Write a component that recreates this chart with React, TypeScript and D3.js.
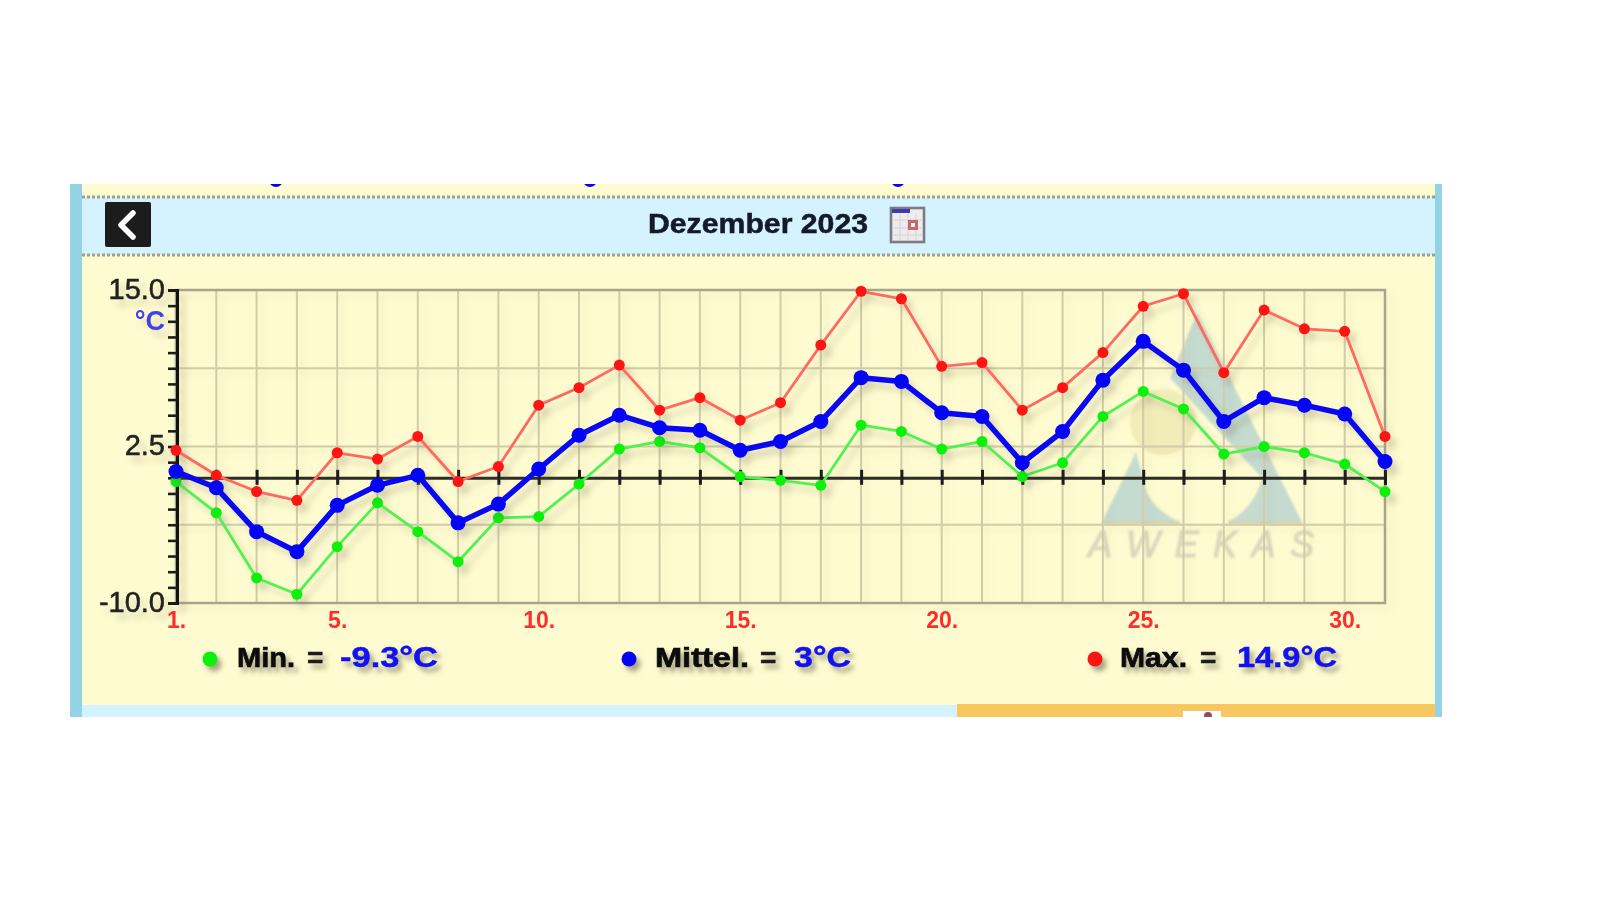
import { useEffect, useRef } from "react";
import * as d3 from "d3";

const DAYS = d3.range(1, 32);
const DAY_LABELS = [1, 5, 10, 15, 20, 25, 30];
const Y_TICKS = d3.range(-10, 15.01, 1.25);
const Y_GRID = [-3.75, 2.5, 8.75];
const Y_LABELS = [15, 2.5, -10];

const maxTemps = [2.2, 0.2, -1.1, -1.8, 2.0, 1.5, 3.3, -0.3, 0.9, 5.8, 7.2, 9.0, 5.4, 6.4, 4.6, 6.0, 10.6, 14.9, 14.3, 8.9, 9.2, 5.4, 7.2, 10.0, 13.7, 14.7, 8.4, 13.4, 11.9, 11.7, 3.3];
const meanTemps = [0.5, -0.8, -4.3, -5.9, -2.2, -0.6, 0.2, -3.6, -2.1, 0.7, 3.4, 5.0, 4.0, 3.8, 2.2, 2.9, 4.5, 8.0, 7.7, 5.2, 4.9, 1.2, 3.7, 7.8, 10.9, 8.6, 4.5, 6.4, 5.8, 5.1, 1.3];
const minTemps = [-0.3, -2.8, -8.0, -9.3, -5.5, -2.0, -4.3, -6.7, -3.2, -3.1, -0.5, 2.3, 2.9, 2.4, 0.1, -0.2, -0.6, 4.2, 3.7, 2.3, 2.9, 0.1, 1.2, 4.9, 6.9, 5.5, 1.9, 2.5, 2.0, 1.1, -1.1];

const legendNames = ["Min.", "Mittel.", "Max."];
const legendValues = ["-9.3°C", "3°C", "14.9°C"];

const SERIES = [
  { key: "max", values: maxTemps, line: "#ff6a60", dot: "#ff1414", width: 2.8, r: 5.5 },
  { key: "min", values: minTemps, line: "#4ff24f", dot: "#0cf00c", width: 2.8, r: 5.5 },
  { key: "mean", values: meanTemps, line: "#0808f2", dot: "#0404f6", width: 5.5, r: 7.5 },
];

const LEGEND_LAYOUT = [
  { color: "#0cf00c", dotX: 210, nameX: 237, nameW: 58, eqX: 307, valueX: 340, valueW: 98 },
  { color: "#0404f6", dotX: 629, nameX: 655, nameW: 94, eqX: 760, valueX: 794, valueW: 57 },
  { color: "#ff1414", dotX: 1095, nameX: 1120, nameW: 67, eqX: 1200, valueX: 1237, valueW: 100 },
];

const FONT = "'Liberation Sans', Arial, sans-serif";

export default function App() {
  const plotRef = useRef<SVGGElement | null>(null);

  useEffect(() => {
    const node = plotRef.current;
    if (!node) return;

    const x = d3.scaleLinear().domain([1, 31]).range([176, 1385]);
    const y = d3.scaleLinear().domain([-10, 15]).range([603, 290]);

    const plot = d3.select(node);
    plot.selectAll("*").remove();

    const grid = plot.append("g").attr("filter", "url(#gridShadow)");

    grid
      .selectAll("line.day")
      .data(DAYS.slice(1))
      .join("line")
      .attr("class", "day")
      .attr("x1", (d) => x(d))
      .attr("x2", (d) => x(d))
      .attr("y1", y(15))
      .attr("y2", y(-10))
      .attr("stroke", "#d0cca8")
      .attr("stroke-width", 2);

    grid
      .selectAll("line.level")
      .data(Y_GRID)
      .join("line")
      .attr("class", "level")
      .attr("x1", x(1))
      .attr("x2", x(31))
      .attr("y1", (d) => y(d))
      .attr("y2", (d) => y(d))
      .attr("stroke", "#d0cca8")
      .attr("stroke-width", 2);

    grid
      .append("rect")
      .attr("x", x(1))
      .attr("y", y(15))
      .attr("width", x(31) - x(1))
      .attr("height", y(-10) - y(15))
      .attr("fill", "none")
      .attr("stroke", "#a8a68a")
      .attr("stroke-width", 2.5);

    // left axis, only three of the ticks carry a label
    const leftAxis = plot
      .append("g")
      .attr("filter", "url(#softShadow)")
      .append("g")
      .attr("transform", `translate(${x(1) + 1}, 0)`)
      .call(
        d3
          .axisLeft(y)
          .tickValues(Y_TICKS)
          .tickSize(9)
          .tickPadding(3)
          .tickFormat((value) => (Y_LABELS.includes(+value) ? (+value).toFixed(1) : ""))
      );
    leftAxis.select(".domain").attr("stroke", "#111").attr("stroke-width", 3);
    leftAxis.selectAll("line").attr("stroke", "#1c1c1c").attr("stroke-width", 2.6);
    leftAxis
      .selectAll("text")
      .attr("font-family", FONT)
      .attr("font-size", 29)
      .attr("fill", "#222")
      .attr("stroke", "#222")
      .attr("stroke-width", 0.5)
      .attr("dy", "0.28em");

    // zero line with a tick for every day
    const zeroAxis = plot
      .append("g")
      .attr("transform", `translate(0, ${y(0)})`)
      .call(d3.axisBottom(x).tickValues(DAYS).tickSize(7).tickFormat(() => ""));
    zeroAxis.select(".domain").attr("stroke", "#2e2e26").attr("stroke-width", 3);
    zeroAxis
      .selectAll(".tick line")
      .attr("y1", -8)
      .attr("y2", 7)
      .attr("stroke", "#1c1c1c")
      .attr("stroke-width", 3);

    const dayAxis = plot
      .append("g")
      .attr("transform", `translate(0, ${y(-10)})`)
      .call(d3.axisBottom(x).tickValues(DAY_LABELS).tickSize(0).tickPadding(9).tickFormat((d) => `${d}.`));
    dayAxis.select(".domain").remove();
    dayAxis
      .selectAll("text")
      .attr("font-family", FONT)
      .attr("font-size", 23)
      .attr("font-weight", 700)
      .attr("fill", "#ff2c2c");

    const line = d3
      .line<number>()
      .x((_, i) => x(DAYS[i]))
      .y((d) => y(d));

    SERIES.forEach((series) => {
      const group = plot.append("g").attr("filter", "url(#softShadow)");
      group
        .append("path")
        .attr("d", line(series.values))
        .attr("fill", "none")
        .attr("stroke", series.line)
        .attr("stroke-width", series.width)
        .attr("stroke-linejoin", "round");
      group
        .selectAll("circle")
        .data(series.values)
        .join("circle")
        .attr("cx", (_, i) => x(DAYS[i]))
        .attr("cy", (d) => y(d))
        .attr("r", series.r)
        .attr("fill", series.dot);
    });
  }, []);

  return (
    <svg width={1600} height={900} style={{ position: "fixed", left: 0, top: 0, background: "#fff" }} fontFamily={FONT}>
      <defs>
        <filter id="softBlur" filterUnits="userSpaceOnUse" x={0} y={0} width={1600} height={900} colorInterpolationFilters="sRGB">
          <feGaussianBlur stdDeviation={0.7} />
        </filter>
        <filter id="softShadow" filterUnits="userSpaceOnUse" x={0} y={0} width={1600} height={900} colorInterpolationFilters="sRGB">
          <feDropShadow dx={6} dy={7} stdDeviation={3} floodColor="#55503a" floodOpacity={0.2} />
        </filter>
        <filter id="gridShadow" filterUnits="userSpaceOnUse" x={0} y={0} width={1600} height={900} colorInterpolationFilters="sRGB">
          <feDropShadow dx={5} dy={5} stdDeviation={3} floodColor="#55503a" floodOpacity={0.08} />
        </filter>
        <filter id="textShadow" filterUnits="userSpaceOnUse" x={0} y={0} width={1600} height={900} colorInterpolationFilters="sRGB">
          <feDropShadow dx={4} dy={5} stdDeviation={2.5} floodColor="#55503a" floodOpacity={0.5} />
        </filter>
        <filter id="markBlur" filterUnits="userSpaceOnUse" x={0} y={0} width={1600} height={900} colorInterpolationFilters="sRGB">
          <feGaussianBlur stdDeviation={1.3} />
        </filter>
        <clipPath id="panelClip">
          <rect x={70} y={184} width={1372} height={533} />
        </clipPath>
      </defs>

      <g filter="url(#softBlur)" clipPath="url(#panelClip)">
        <rect x={70} y={184} width={1372} height={533} fill="#fefbd0" />
        <rect x={70} y={184} width={12} height={533} fill="#92d3e5" />
        <rect x={1435} y={184} width={7} height={533} fill="#92d3e5" />
        <rect x={82} y={197} width={1353} height={58} fill="#d4f2ff" />
        <line x1={82} x2={1435} y1={197} y2={197} stroke="#a0a08c" strokeWidth={3} strokeDasharray="3 2" />
        <line x1={82} x2={1435} y1={255} y2={255} stroke="#a0a08c" strokeWidth={3} strokeDasharray="3 2" />

        <circle cx={276} cy={180} r={7} fill="#0404f6" />
        <circle cx={590} cy={180} r={7} fill="#0404f6" />
        <circle cx={898} cy={180} r={7} fill="#0404f6" />

        <rect x={105} y={202} width={46} height={45} rx={2} fill="#1c1c1c" />
        <path d="M133 213 L121 225 L133 237" fill="none" stroke="#fff" strokeWidth={5.5} strokeLinecap="round" strokeLinejoin="round" />

        <text x={648} y={233} fontSize={27.5} fontWeight={700} fill="#141a28" stroke="#141a28" strokeWidth={0.5} textLength={220} lengthAdjust="spacingAndGlyphs">
          Dezember 2023
        </text>
        <rect x={891} y={208} width={33} height={34} fill="#efecee" stroke="#7c7c80" strokeWidth={2.6} />
        <path d="M892 220 H923 M892 228 H923 M892 235 H923 M900 214 V241 M908 214 V241 M916 214 V241" stroke="#d4d0d4" strokeWidth={1} />
        <rect x={892} y={209} width={18} height={4} fill="#3c3cb0" />
        <rect x={908} y={220} width={10} height={10} fill="#c46a6a" />
        <rect x={911} y={223} width={4} height={4} fill="#efecee" />

        {/* watermark */}
        <g filter="url(#markBlur)">
          <path d="M1197 313 L1302 522 L1228 522 A67 67 0 0 0 1262 478 L1170 378 Z" fill="#c6dbcf" />
          <path d="M1102 522 L1136 452 L1147 493 A67 67 0 0 0 1180 522 Z" fill="#c6dbcf" />
          <line x1={1102} x2={1180} y1={523} y2={523} stroke="#d8d0ac" strokeWidth={3} />
          <line x1={1228} x2={1302} y1={523} y2={523} stroke="#d8d0ac" strokeWidth={3} />
          <circle cx={1163} cy={422} r={33} fill="#f1ecb8" />
          <text x={1088} y={557} fontSize={36} fontStyle="italic" fill="#dcd8bc" stroke="#dcd8bc" strokeWidth={1} textLength={226}>
            AWEKAS
          </text>
        </g>

        <g ref={plotRef} />

        <text x={165} y={330} textAnchor="end" fontSize={27} fontWeight={700} fill="#4040f0" filter="url(#softShadow)">
          °C
        </text>

        {LEGEND_LAYOUT.map((item, i) => (
          <g key={legendNames[i]} filter="url(#textShadow)">
            <circle cx={item.dotX} cy={659} r={7.5} fill={item.color} />
            <text x={item.nameX} y={667} fontSize={28} fontWeight={700} fill="#0c0c0c" stroke="#0c0c0c" strokeWidth={0.7} textLength={item.nameW} lengthAdjust="spacingAndGlyphs">
              {legendNames[i]}
            </text>
            <text x={item.eqX} y={667} fontSize={28} fontWeight={700} fill="#1c1c1c" stroke="#1c1c1c" strokeWidth={0.5}>
              =
            </text>
            <text x={item.valueX} y={667} fontSize={30} fontWeight={700} fill="#1212f0" stroke="#1212f0" strokeWidth={0.5} textLength={item.valueW} lengthAdjust="spacingAndGlyphs">
              {legendValues[i]}
            </text>
          </g>
        ))}

        <rect x={82} y={705} width={875} height={12} fill="#d4f2ff" />
        <rect x={957} y={704} width={478} height={13} fill="#f9c75f" />
        <rect x={1183} y={711} width={38} height={6} fill="#fff" />
        <circle cx={1208} cy={716} r={4} fill="#8a4a70" />
      </g>
    </svg>
  );
}
